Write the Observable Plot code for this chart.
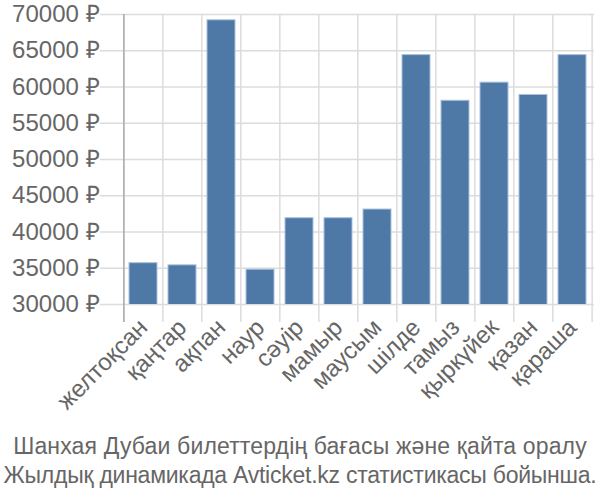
<!DOCTYPE html>
<html>
<head>
<meta charset="utf-8">
<script src="https://cdn.jsdelivr.net/npm/d3@7"></script>
<script src="https://cdn.jsdelivr.net/npm/@observablehq/plot@0.6"></script>
<style>
  html, body { margin: 0; padding: 0; background: #fff; }
  body { width: 600px; font-family: "Liberation Sans", Arial, sans-serif; }
  #caption { text-align: center; color: #666; font-size: 23px; line-height: 29px; margin-top: 2px; white-space: nowrap; }
  #caption .l1 { letter-spacing: 0.15px; }
  #caption .l2 { letter-spacing: -0.25px; }
</style>
</head>
<body>
<div id="chart"></div>
<div id="caption"><span class="l1">Шанхая Дубаи билеттердің бағасы және қайта оралу</span><br><span class="l2">Жылдық динамикада Avticket.kz статистикасы бойынша.</span></div>
<script>
const months = ["желтоқсан", "қаңтар", "ақпан", "наур", "сәуір", "мамыр", "маусым", "шілде", "тамыз", "қыркүйек", "қазан", "қараша"];
const prices = [35700, 35400, 69200, 34800, 41900, 41900, 43100, 64400, 58100, 60600, 58900, 64400];
const yTicks = [30000, 35000, 40000, 45000, 50000, 55000, 60000, 65000, 70000];
const yDomain = [30000, 70000];

const data = months.map((m, i) => ({month: m, price: prices[i]}));

const width = 600, height = 430;
const marginLeft = 122, marginRight = 6, marginTop = 14, marginBottom = 126;
const step = (width - marginLeft - marginRight) / months.length;
const gridColor = "#dcdcdc";

const chart = Plot.plot({
  width, height, marginLeft, marginRight, marginTop, marginBottom,
  style: {fontFamily: "'Liberation Sans', Arial, sans-serif", fontSize: "24px", color: "#666", background: "#fff"},
  x: {domain: months, paddingInner: 0.28, paddingOuter: 0.14, label: null},
  y: {domain: yDomain, ticks: yTicks, label: null, tickFormat: d => d + " ₽"},
  marks: [
    Plot.ruleY(yTicks, {y: d => d, stroke: gridColor, strokeWidth: 1.5, insetLeft: -22}),
    Plot.ruleX(months, {x: d => d, dx: -step / 2, stroke: gridColor, strokeWidth: 1.5, insetBottom: -18}),
    Plot.ruleX(months.slice(-1), {x: d => d, dx: step / 2, stroke: gridColor, strokeWidth: 1.5, insetBottom: -18}),
    Plot.barY(data, {x: "month", y: "price", fill: "#4e79a7", stroke: "#a9c1dc", strokeWidth: 1, clip: true}),
    Plot.ruleX(months.slice(0, 1), {x: d => d, dx: -step / 2, stroke: "#aaa", strokeWidth: 1.5, insetBottom: -18}),
    Plot.axisY({ticks: yTicks, tickSize: 0, tickPadding: 23, tickFormat: d => d + " ₽", fontSize: 24, fill: "#666"}),
    Plot.axisX({tickSize: 0, tickPadding: 19, tickRotate: -45, fontSize: 24, fill: "#666", label: null})
  ]
});
document.getElementById("chart").appendChild(chart);
</script>
</body>
</html>
